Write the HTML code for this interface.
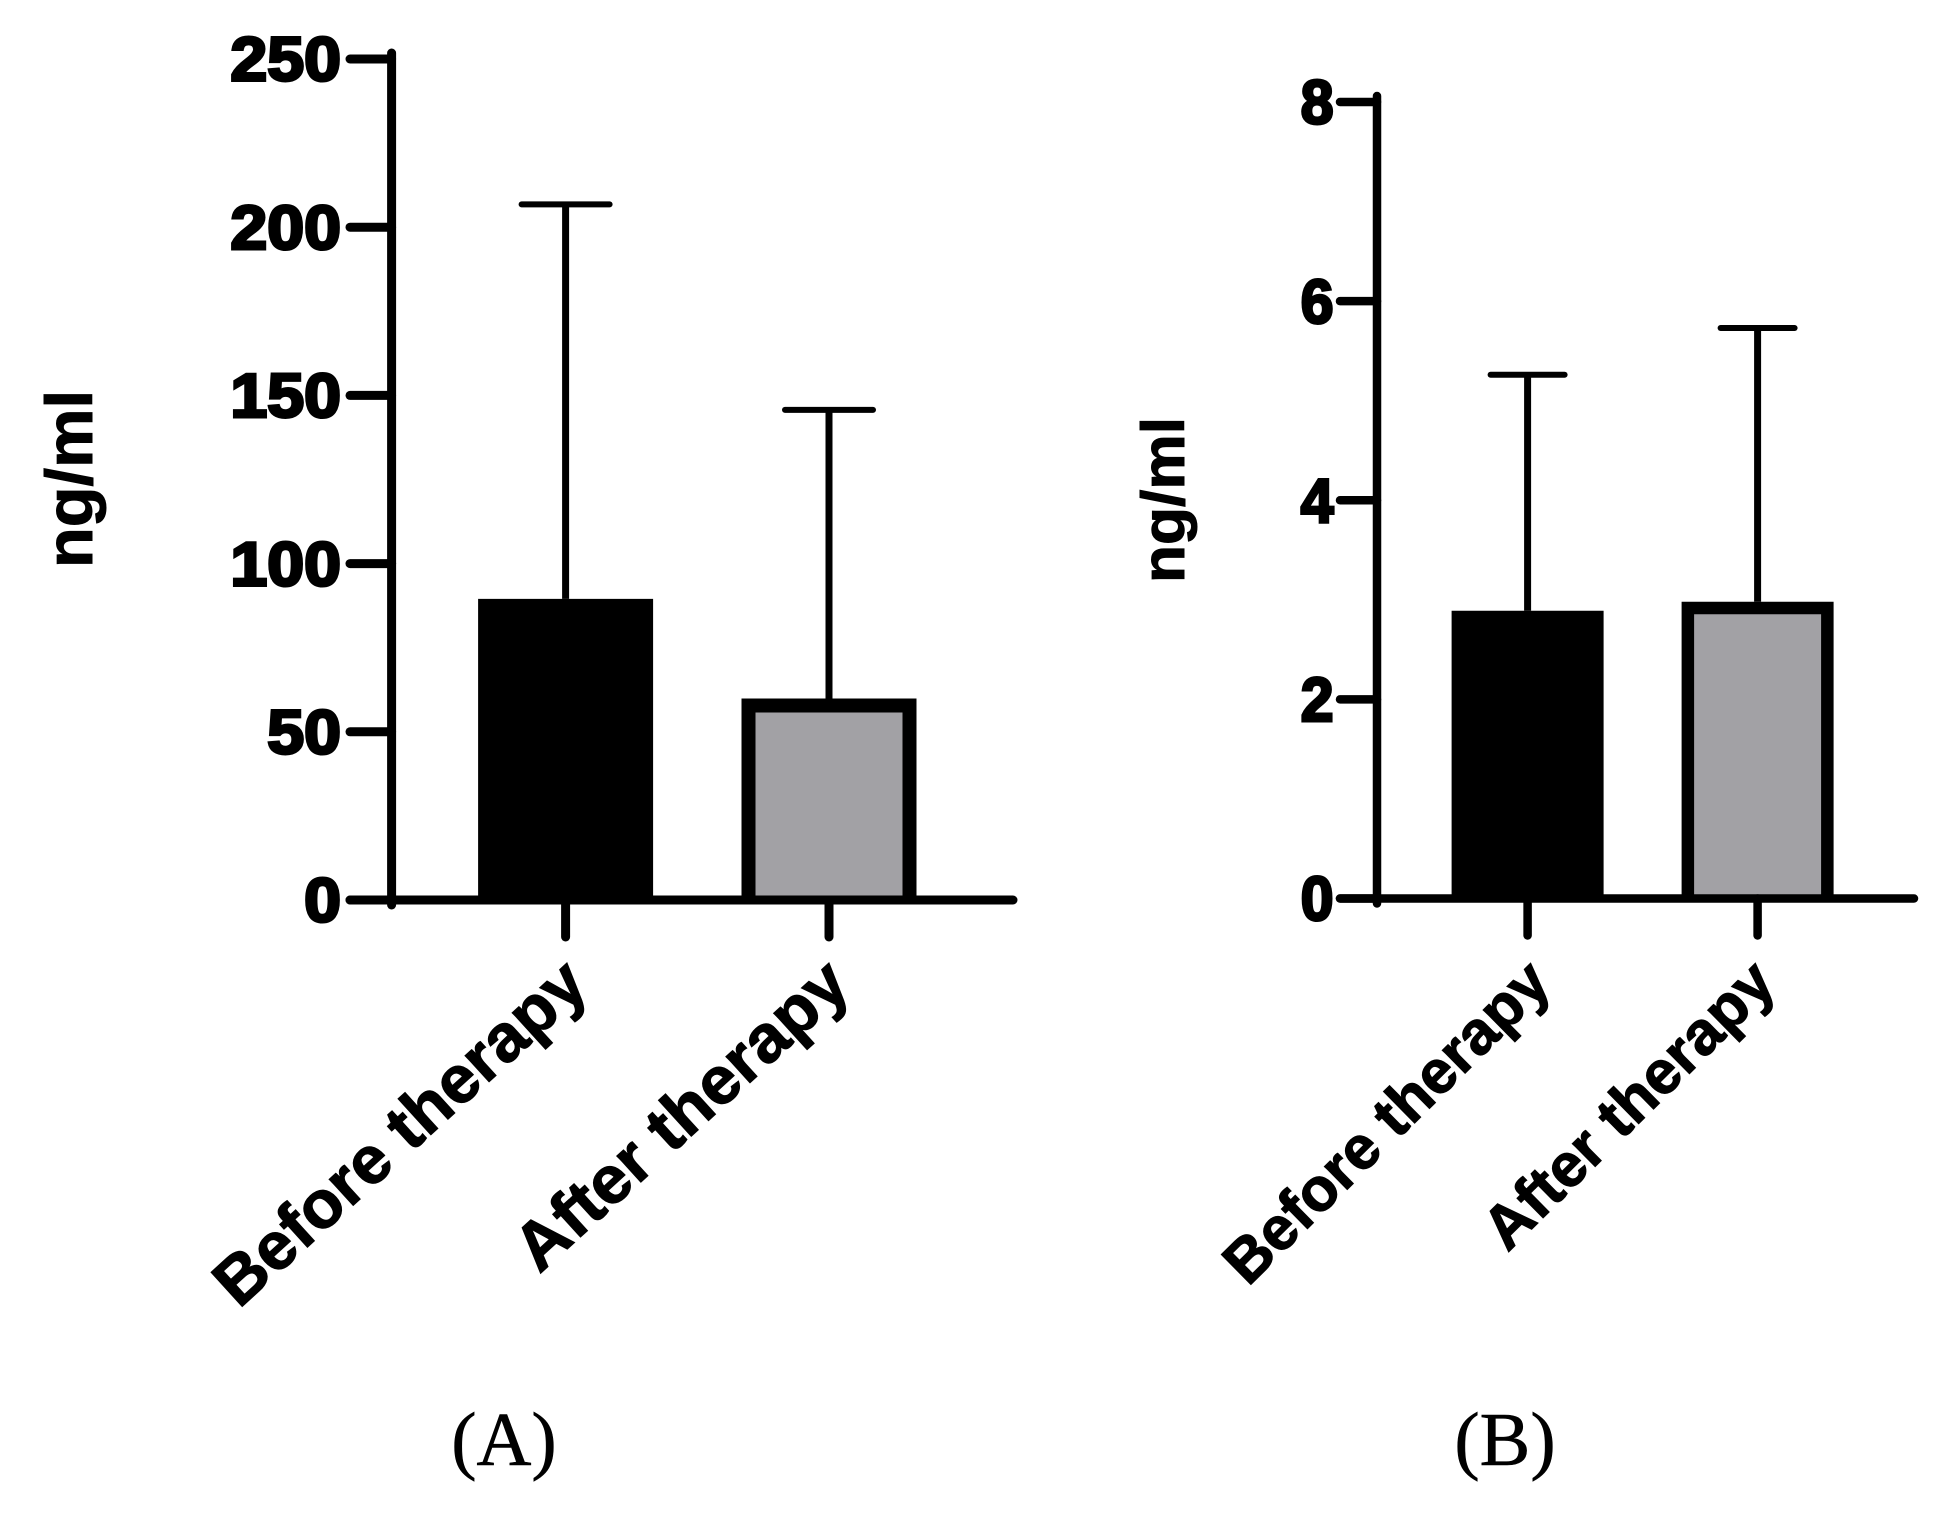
<!DOCTYPE html>
<html lang="en">
<head>
<meta charset="utf-8">
<title>Before and after therapy bar charts</title>
<style>
html,body{margin:0;padding:0;background:#fff;width:1949px;height:1514px;overflow:hidden}
svg{display:block}
.tick{font-family:"Liberation Sans",sans-serif;font-weight:700;fill:#000;stroke:#000;stroke-width:3px}
.cat{font-family:"Liberation Sans",sans-serif;font-weight:700;fill:#000;stroke:#000;stroke-width:1.2px}
.unit{font-family:"Liberation Sans",sans-serif;font-weight:700;fill:#000;stroke:#000;stroke-width:1px}
.panel{font-family:"Liberation Serif",serif;fill:#000;stroke:#000;stroke-width:.6px}
</style>
</head>
<body>
<svg id="figure" xmlns="http://www.w3.org/2000/svg" width="1949" height="1514" viewBox="0 0 1949 1514"></svg>
<script>
const categories = ["Before therapy", "After therapy"];
const panelATicks = [0, 50, 100, 150, 200, 250];
const panelAMeans = [89.5, 59.9];
const panelAUpper = [206.8, 145.7];
const panelBTicks = [0, 2, 4, 6, 8];
const panelBMeans = [2.89, 2.98];
const panelBUpper = [5.26, 5.73];

const NS = "http://www.w3.org/2000/svg";
const svg = document.getElementById("figure");

function make(parent, tag, attrs) {
  const el = document.createElementNS(NS, tag);
  for (const k in attrs) el.setAttribute(k, attrs[k]);
  parent.appendChild(el);
  return el;
}

function drawPanel(p) {
  const g = make(svg, "g", {});
  
  
  const maxTick = p.ticks[p.ticks.length - 1];
  const y = v => p.y0 + (p.yTop - p.y0) * v / maxTick;
  const line = {stroke: "#000", "stroke-width": p.axisW, "stroke-linecap": "round"};

  categories.forEach((name, i) => {
    const cx = p.cx[i];
    const top = y(p.means[i]);
    const up = y(p.upper[i]);
    const err = make(g, "line", {x1: cx, x2: cx, y1: up, y2: top, stroke: "#000", "stroke-width": 7});
    
    
    const cap = make(g, "line", {x1: cx - p.capW / 2, x2: cx + p.capW / 2, y1: up, y2: up, stroke: "#000", "stroke-width": 6, "stroke-linecap": "round"});
    
    
    const inset = i === 0 ? 0 : p.barStroke / 2;
    const left = cx - p.barW / 2 + inset;
    const right = cx + p.barW / 2 - inset;
    const bar = make(g, "path", {
      d: "M" + left + " " + p.y0 + "V" + (top + inset) + "H" + right + "V" + p.y0,
      fill: i === 0 ? "#000" : "#a2a1a5",
      stroke: i === 0 ? "none" : "#000",
      "stroke-width": i === 0 ? 0 : p.barStroke
    });
    
    
    const tk = make(g, "line", Object.assign({}, line, {x1: cx, x2: cx, y1: p.y0, y2: p.y0 + 37}));
    
    
    const t = make(g, "text", {
      class: "cat", "font-size": p.catSize, "text-anchor": "end",
      textLength: p.catLen[i], lengthAdjust: "spacingAndGlyphs",
      transform: "translate(" + (cx + p.catDx[i]) + "," + (p.y0 + p.catDy) + ") rotate(" + p.catAngle + ")"
    });
    t.textContent = name;
    
    
  });

  const xAxis = make(g, "line", Object.assign({}, line, {x1: p.tickX, x2: p.xEnd, y1: p.y0, y2: p.y0}));
  
  
  const yAxis = make(g, "line", Object.assign({}, line, {x1: p.axisX, x2: p.axisX, y1: p.y0 + 5, y2: p.yTop - 6}));
  
  

  p.ticks.forEach(v => {
    const tk = make(g, "line", Object.assign({}, line, {x1: p.tickX, x2: p.axisX, y1: y(v), y2: y(v)}));
    
    
    const t = make(g, "text", {
      class: "tick", "font-size": p.tickSize, "text-anchor": "end",
      transform: "translate(" + (p.tickX - p.tickGap) + "," + (y(v) + p.tickSize * 0.35) + ") scale(" + p.tickScale + ",1)"
    });
    t.textContent = v;
    
    
  });

  const unit = make(g, "text", {
    class: "unit", "font-size": p.unitSize, "text-anchor": "middle",
    textLength: p.unitLen, lengthAdjust: "spacingAndGlyphs",
    transform: "translate(" + p.unitX + "," + p.unitY + ") rotate(-90)"
  });
  unit.textContent = "ng/ml";
  
  

  const lab = make(g, "text", {class: "panel", "font-size": 76, "text-anchor": "middle", x: p.labelX, y: 1465});
  lab.textContent = p.label;
  
  
}

drawPanel({
  id: "panel-a", label: "(A)", labelX: 504,
  ticks: panelATicks, means: panelAMeans, upper: panelAUpper,
  y0: 900, yTop: 59, axisX: 391.6, tickX: 350, xEnd: 1013, axisW: 9,
  cx: [565.6, 829], barW: 175, barStroke: 14, capW: 88,
  tickSize: 62, tickScale: 1.07, tickGap: 9,
  catSize: 67, catLen: [476, 424], catAngle: -42.3, catDx: [25.4, 24], catDy: 89,
  unitSize: 66, unitLen: 178, unitX: 92, unitY: 479
});
drawPanel({
  id: "panel-b", label: "(B)", labelX: 1505,
  ticks: panelBTicks, means: panelBMeans, upper: panelBUpper,
  y0: 898.5, yTop: 102, axisX: 1377, tickX: 1340, xEnd: 1914, axisW: 8.5,
  cx: [1527.6, 1757.6], barW: 152, barStroke: 12.5, capW: 74,
  tickSize: 62, tickScale: 0.95, tickGap: 6.5,
  catSize: 61, catLen: [429, 380], catAngle: -44.6, catDx: [25.9, 20.6], catDy: 87.5,
  unitSize: 60, unitLen: 166, unitX: 1184, unitY: 500
});
</script>
</body>
</html>
